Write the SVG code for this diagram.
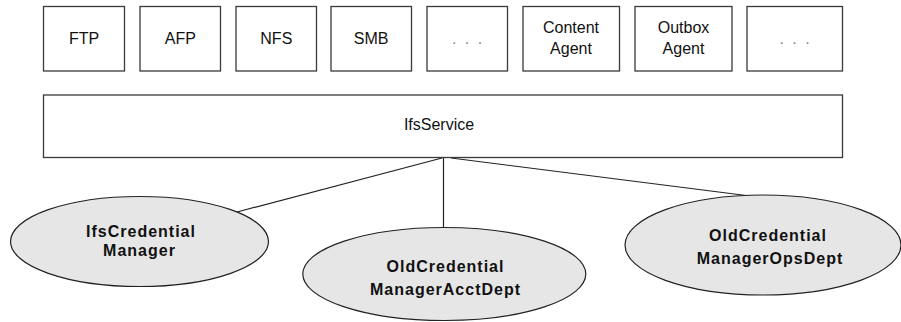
<svg xmlns="http://www.w3.org/2000/svg" width="901" height="322" viewBox="0 0 901 322">
<style>
.box{fill:#fff;stroke:#3a3a3a;stroke-width:1.3}
.ell{fill:#e6e6e6;stroke:#222;stroke-width:1.2}
.t{font-family:"Liberation Sans",Arial,sans-serif;font-size:16px;fill:#111;text-anchor:middle}
.b{font-family:"Liberation Sans",Arial,sans-serif;font-size:16px;font-weight:bold;fill:#111;text-anchor:middle;letter-spacing:1px}
.dots{font-family:"Liberation Sans",Arial,sans-serif;font-size:16px;fill:#888;text-anchor:middle;letter-spacing:2px}
.c{stroke:#222;stroke-width:1.2;fill:none}
</style>
<rect width="901" height="322" fill="#fff"/>
<g id="connectors">
<line class="c" x1="442" y1="158" x2="237" y2="212"/>
<line class="c" x1="443.5" y1="158" x2="443.5" y2="230"/>
<line class="c" x1="451" y1="158" x2="758" y2="197"/>
</g>
<g id="ftp"><rect class="box" x="43.5" y="6.5" width="81" height="64.5"/><text class="t" x="84" y="44">FTP</text></g>
<g id="afp"><rect class="box" x="140" y="6.5" width="80.5" height="64.5"/><text class="t" x="180.3" y="44">AFP</text></g>
<g id="nfs"><rect class="box" x="236" y="6.5" width="80.5" height="64.5"/><text class="t" x="276.3" y="44">NFS</text></g>
<g id="smb"><rect class="box" x="331" y="6.5" width="80.5" height="64.5"/><text class="t" x="371.2" y="44">SMB</text></g>
<g id="more1"><rect class="box" x="427" y="6.5" width="80.5" height="64.5"/><text class="dots" x="468" y="44">. . .</text></g>
<g id="content-agent"><rect class="box" x="523" y="6.5" width="96.5" height="64.5"/><text class="t" x="571" y="32.5">Content</text><text class="t" x="571" y="54">Agent</text></g>
<g id="outbox-agent"><rect class="box" x="635" y="6.5" width="97" height="64.5"/><text class="t" x="683.5" y="32.5">Outbox</text><text class="t" x="683.5" y="54">Agent</text></g>
<g id="more2"><rect class="box" x="747" y="6.5" width="95.5" height="64.5"/><text class="dots" x="795.5" y="44">. . .</text></g>
<g id="ifsservice"><rect class="box" x="43.5" y="95" width="799" height="62.5"/><text class="t" x="439" y="129.5">IfsService</text></g>
<g id="ifscredentialmanager"><ellipse class="ell" cx="139.5" cy="241.5" rx="129" ry="45"/><text class="b" x="141" y="236.5">IfsCredential</text><text class="b" x="139.5" y="255.5">Manager</text></g>
<g id="oldcredentialmanageracctdept"><ellipse class="ell" cx="444.3" cy="274" rx="141.5" ry="46.5"/><text class="b" x="445.5" y="272">OldCredential</text><text class="b" x="445.5" y="294.5">ManagerAcctDept</text></g>
<g id="oldcredentialmanageropsdept"><ellipse class="ell" cx="763" cy="245" rx="138" ry="50"/><text class="b" x="768" y="241">OldCredential</text><text class="b" x="770" y="263.5">ManagerOpsDept</text></g>
</svg>
